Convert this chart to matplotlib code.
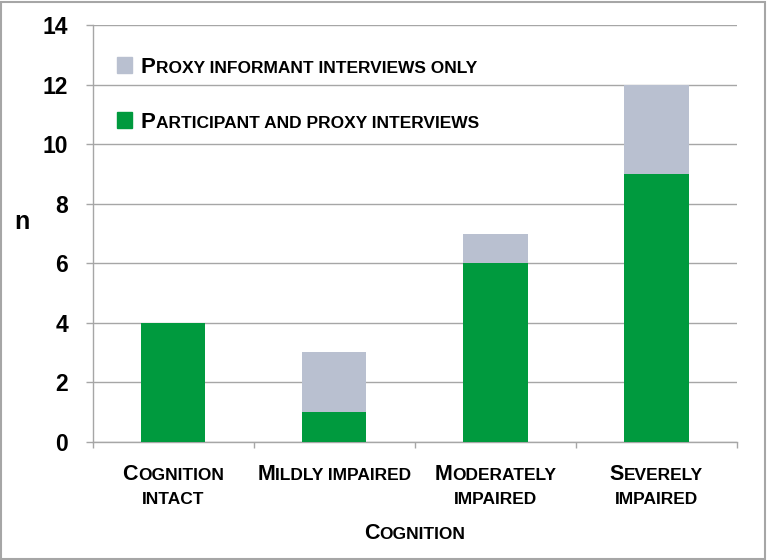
import matplotlib
matplotlib.use('Agg')
import matplotlib.pyplot as plt
from matplotlib.patches import Rectangle
from matplotlib.transforms import offset_copy
from matplotlib.font_manager import FontProperties

# данные
categories = [["Cognition", "intact"], ["Mildly impaired"],
              ["Moderately", "impaired"], ["Severely", "impaired"]]
participant_proxy = [4, 1, 6, 9]
proxy_only = [0, 2, 1, 3]
legend_labels = ["Proxy informant interviews only",
                 "Participant and proxy interviews"]
x_title = "Cognition"
y_title = "n"
y_ticks = [0, 2, 4, 6, 8, 10, 12, 14]

GREEN = '#009A3E'
GREY = '#B9C0D0'
LINE = '#A6A6A6'
FONT = ['Liberation Sans', 'DejaVu Sans']
W, H = 767, 560


def split_runs(text):
    """Разбивка текста на куски: заглавные / строчные"""
    runs = []
    for ch in text:
        big = ch.isupper()
        if ch == ' ' and runs:
            runs[-1][0] += ch
            continue
        if runs and runs[-1][1] == big:
            runs[-1][0] += ch
        else:
            runs.append([ch, big])
    return runs


def small_caps(fig, x, y, text, transform, big=15, small=12,
               ha='left', dx=0, dy=0):
    """Текст капителью: заглавные крупнее, строчные -> мелкие заглавные"""
    renderer = fig.canvas.get_renderer()
    runs = split_runs(text)
    widths = []
    for s, b in runs:
        fp = FontProperties(family=FONT, weight='bold', size=big if b else small)
        w, _, _ = renderer.get_text_width_height_descent(s.upper(), fp, ismath=False)
        widths.append(w)
    pos = dx - sum(widths) / 2 if ha == 'center' else dx
    for (s, b), w in zip(runs, widths):
        tr = offset_copy(transform, fig=fig, x=pos, y=dy, units='dots')
        fig.text(x, y, s.upper(), transform=tr, family=FONT, fontweight='bold',
                 fontsize=big if b else small, ha='left', va='baseline')
        pos += w


fig = plt.figure(figsize=(W / 100, H / 100), dpi=100)
ax = fig.add_axes([92.5 / W, 1 - 441.7 / H, (737 - 92.5) / W, (441.7 - 25.3) / H])

x = list(range(len(categories)))
ax.bar(x, participant_proxy, width=0.4, color=GREEN, zorder=3)
ax.bar(x, proxy_only, width=0.4, bottom=participant_proxy, color=GREY, zorder=3)

ax.set_xlim(-0.5, len(categories) - 0.5)
ax.set_ylim(0, 14)
ax.set_yticks(y_ticks)
ax.set_yticklabels([str(t) for t in y_ticks], family=FONT, fontweight='bold', fontsize=16.5)
ax.tick_params(axis='y', length=5, width=1, color=LINE, pad=12.5)
ax.set_xticks([i - 0.5 for i in range(len(categories) + 1)])
ax.set_xticklabels([])
ax.tick_params(axis='x', length=4, width=1, color=LINE)
ax.grid(axis='y', color=LINE, linewidth=1, zorder=0)
for side in ['top', 'right']:
    ax.spines[side].set_visible(False)
for side in ['left', 'bottom']:
    ax.spines[side].set_color(LINE)
    ax.spines[side].set_linewidth(1)

# подписи категорий
xt = ax.get_xaxis_transform()
for i, lines in enumerate(categories):
    for j, line in enumerate(lines):
        small_caps(fig, i, 0, line, xt, big=15.5, small=12.5, ha='center',
                   dy=-38.3 - 24 * j)

small_caps(fig, 0.5, 0, x_title, ax.transAxes, big=15.5, small=12.5,
           ha='center', dy=-97.3)
fig.text(22 / W, 1 - 222 / H, y_title, family=FONT, fontweight='bold',
         fontsize=18, ha='center', va='center')

# легенда
for k, (label, color) in enumerate(zip(legend_labels, [GREY, GREEN])):
    base = 73 + 54.5 * k
    fig.add_artist(Rectangle((117 / W, 1 - base / H), 15 / W, 16 / H,
                             transform=fig.transFigure, color=color))
    small_caps(fig, 141 / W, 1 - base / H, label, fig.transFigure, big=16, small=12.5)

# рамка
fig.add_artist(Rectangle((0.001, 0.001), 0.997, 0.996, transform=fig.transFigure,
                         fill=False, edgecolor=LINE, linewidth=1.5))

fig.savefig('out.png', dpi=100)
